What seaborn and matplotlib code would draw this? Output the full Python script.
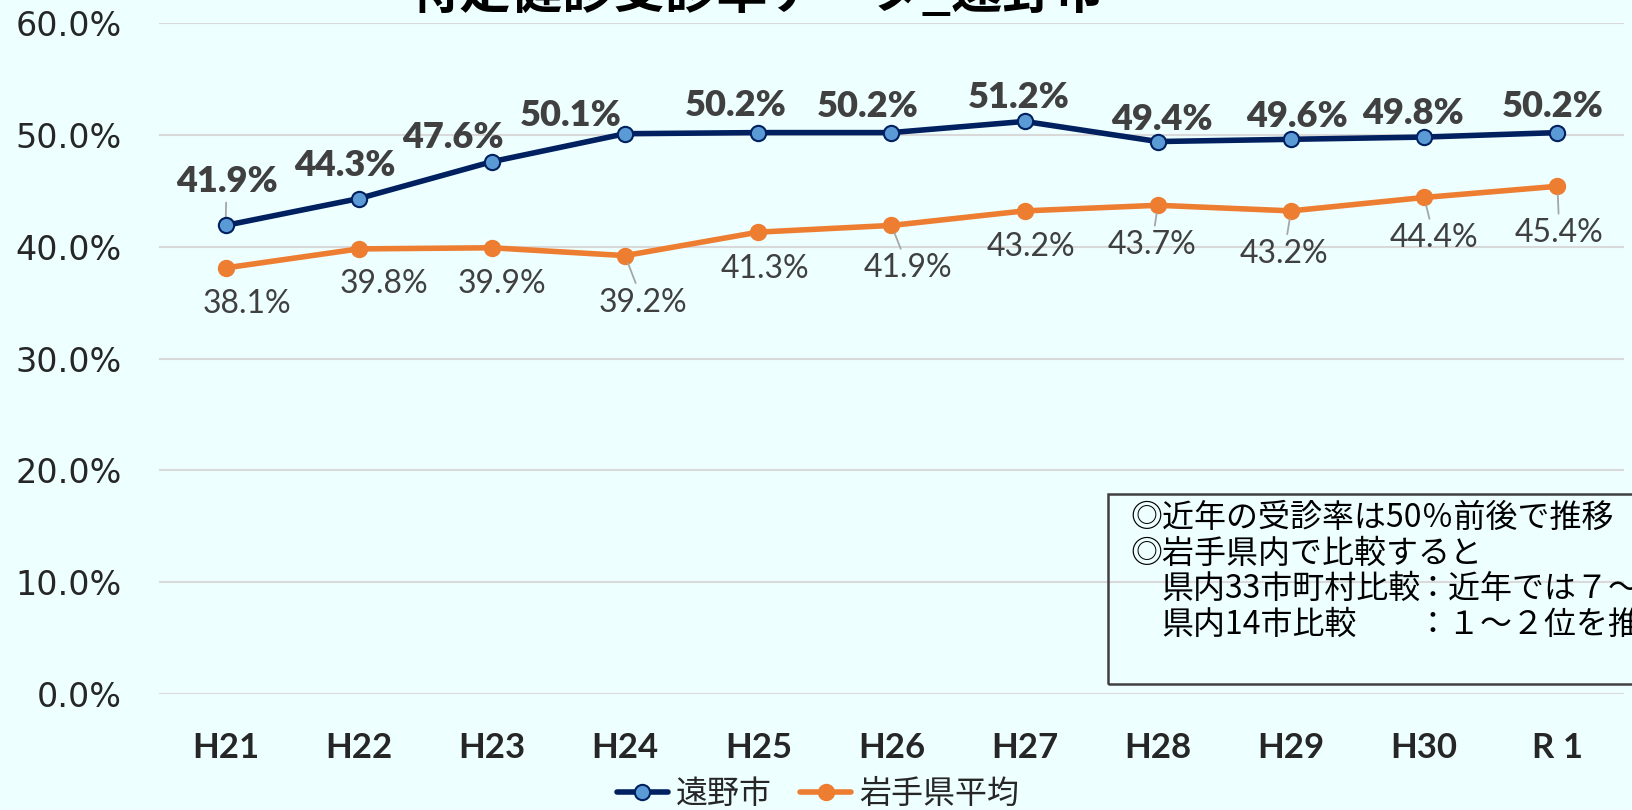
import numpy as np
import pandas as pd
import matplotlib.pyplot as plt
import seaborn as sns
from matplotlib.patches import Rectangle

# 年度と受診率(%)
anos = ['H21', 'H22', 'H23', 'H24', 'H25', 'H26', 'H27', 'H28', 'H29', 'H30', 'R 1']
tono = [41.9, 44.3, 47.6, 50.1, 50.2, 50.2, 51.2, 49.4, 49.6, 49.8, 50.2]
iwate = [38.1, 39.8, 39.9, 39.2, 41.3, 41.9, 43.2, 43.7, 43.2, 44.4, 45.4]
series = ['遠野市', '岩手県平均']

# ラベルの位置(点からのずれ, px)
off_tono = [(1, 44), (-14, 33), (-39, 24), (-54, 18), (-23, 27), (-24, 26),
            (-6, 24), (4, 22), (6, 23), (-11, 24), (-5, 26)]
off_iwate = [(21, -36), (25, -35), (10, -36), (18, -47), (7, -37), (17, -43),
             (6, -36), (-6, -40), (-7, -43), (10, -41), (2, -47)]
lead_tono = [True] + [False] * 10
lead_iwate = [False, False, False, True, False, True, False, True, True, True, True]

fundo = '#EEFFFF'
azul = '#002060'
laranja = '#ED7D31'

sns.set_theme(style='white')
plt.rcParams['font.family'] = ['Noto Sans CJK JP', 'DejaVu Sans']

fig = plt.figure(figsize=(16.33, 8.10), dpi=100, facecolor=fundo)
ax = fig.add_axes([159 / 1633, 1 - 694 / 810, (1624 - 159) / 1633, (694 - 23) / 810])
ax.set_facecolor(fundo)

x = np.arange(len(anos))
df = pd.DataFrame({'x': np.concatenate([x, x]), 'taxa': tono + iwate,
                   'serie': [series[0]] * len(anos) + [series[1]] * len(anos)})

sns.lineplot(data=df[df['serie'] == series[0]], x='x', y='taxa', ax=ax, color=azul, lw=4,
             marker='o', ms=11, mfc='#5B9BD5', mec=azul, mew=1.5, label=series[0], zorder=4)
sns.lineplot(data=df[df['serie'] == series[1]], x='x', y='taxa', ax=ax, color=laranja, lw=4,
             marker='o', ms=11, mfc=laranja, mec=laranja, mew=1.5, label=series[1], zorder=3)

#ラベル
guia = dict(arrowstyle='-', color='#A6A6A6', lw=1.3, shrinkA=1, shrinkB=6)
for i in range(len(anos)):
    ax.annotate(f'{tono[i]:.1f}%', (x[i], tono[i]), xytext=off_tono[i], textcoords='offset pixels',
                ha='center', va='center', fontsize=26, fontweight='heavy', color='#404040',
                family=['Lato', 'DejaVu Sans'], arrowprops=guia if lead_tono[i] else None)
    ax.annotate(f'{iwate[i]:.1f}%', (x[i], iwate[i]), xytext=off_iwate[i], textcoords='offset pixels',
                ha='center', va='center', fontsize=23, color='#404040',
                family=['Lato', 'DejaVu Sans'], arrowprops=guia if lead_iwate[i] else None)

ax.set_xlim(-0.5, len(anos) - 0.5)
ax.set_ylim(0, 60)
ax.set_yticks(np.arange(0, 61, 10))
ax.set_yticklabels([f'{v:.1f}%' for v in np.arange(0, 61, 10)], fontsize=24, family='DejaVu Sans')
ax.set_xticks(x)
ax.set_xticklabels(anos, fontsize=25, fontweight='bold', family=['Lato', 'DejaVu Sans'])
ax.tick_params(axis='y', length=0, pad=27)
ax.tick_params(axis='x', length=0, pad=27)
ax.grid(axis='y', color='#D9D9D9', lw=1.5)
for s in ax.spines.values():
    s.set_visible(False)
ax.set_xlabel('')
ax.set_ylabel('')

ax.legend(loc='center', bbox_to_anchor=(818 / 1633, 1 - 794 / 810), bbox_transform=fig.transFigure,
          ncol=2, frameon=False, fontsize=23, handlelength=1.6, columnspacing=0.9, handletextpad=0.25)

fig.text(757 / 1633, 1 - 8 / 810, '特定健診受診率データ_遠野市', ha='center', va='baseline',
         fontsize=37, fontweight='bold', color='black')

# コメント枠
fig.add_artist(Rectangle((1108 / 1633, 1 - 684 / 810), 0.5, (684 - 494) / 810, transform=fig.transFigure,
                         fill=False, edgecolor='#404040', lw=1.8))
linhas = ['◎近年の受診率は50％前後で推移',
          '◎岩手県内で比較すると',
          '県内33市町村比較',
          '県内14市比較']
fins = ['', '', '：近年では７～', '：１～２位を推移']
for k, t in enumerate(linhas):
    y = 1 - (518 + 35.5 * k) / 810
    x0 = 1130 if k < 2 else 1161
    fig.text(x0 / 1633, y, t, ha='left', va='center', fontsize=23, color='black')
    if fins[k]:
        fig.text(1416 / 1633, y, fins[k], ha='left', va='center', fontsize=23, color='black')

fig.savefig('out.png', dpi=100, facecolor=fundo)
